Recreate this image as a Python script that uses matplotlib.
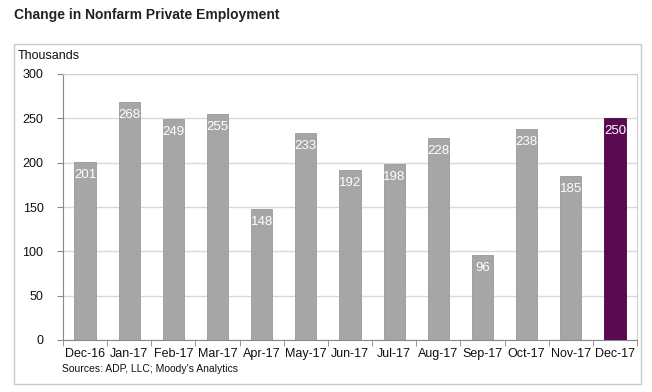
import matplotlib
matplotlib.use("Agg")
import matplotlib.pyplot as plt
from matplotlib.patches import Rectangle
import numpy as np

categories = ["Dec-16", "Jan-17", "Feb-17", "Mar-17", "Apr-17", "May-17", "Jun-17",
              "Jul-17", "Aug-17", "Sep-17", "Oct-17", "Nov-17", "Dec-17"]
values = [201, 268, 249, 255, 148, 233, 192, 198, 228, 96, 238, 185, 250]
yticks = [0, 50, 100, 150, 200, 250, 300]

plt.rcParams['font.family'] = ['Liberation Sans', 'DejaVu Sans']

W, H = 652, 392
fig = plt.figure(figsize=(W / 100, H / 100), dpi=100)
fig.patch.set_facecolor("white")

# outer box
fig.add_artist(Rectangle((14 / W, 1 - 384 / H), (641 - 14) / W, (384 - 44) / H,
                         transform=fig.transFigure, fill=False, edgecolor="#c8c8c8", lw=1))

ax = fig.add_axes([63 / W, 1 - 340 / H, (637 - 63) / W, (340 - 74) / H])
x = np.arange(len(categories))
colors = ["#a6a6a6"] * (len(values) - 1) + ["#5a0a50"]
edges = ["#999999"] * (len(values) - 1) + ["#4a0040"]
bars = ax.bar(x, values, width=0.48, color=colors, edgecolor=edges, linewidth=0.6, zorder=3)

for xi, v in zip(x, values):
    ax.text(xi, v - 13 * 300 / 266, str(v), ha="center", va="center", color="white",
            fontsize=9.5, zorder=4)

ax.set_xlim(-0.5, len(categories) - 0.5)
ax.set_ylim(0, 300)
ax.set_yticks(yticks)
ax.set_yticklabels([str(t) for t in yticks], fontsize=9, color="#111111")
ax.yaxis.grid(True, color="#d9d9d9", lw=1, zorder=0)
ax.set_xticks(x)
ax.set_xticklabels(categories, fontsize=9, color="#111111")
ax.tick_params(axis="x", length=0, pad=6)
ax.set_xticks(np.arange(-0.5, len(categories), 1.0), minor=True)
ax.tick_params(axis="x", which="minor", length=4, direction="out", color="#888888")
ax.tick_params(axis="y", length=4, direction="out", color="#888888", pad=10)
for s in ["top", "right"]:
    ax.spines[s].set_color("#d0d0d0")
for s in ["left", "bottom"]:
    ax.spines[s].set_color("#888888")

fig.text(14 / W, 1 - 15 / H, "Change in Nonfarm Private Employment", fontsize=10,
         fontweight="bold", color="#222222", va="center", ha="left")
fig.text(18 / W, 1 - 56 / H, "Thousands", fontsize=9, color="#111111", va="center", ha="left")
fig.text(62 / W, 1 - 369 / H, "Sources: ADP, LLC; Moody's Analytics", fontsize=7.5,
         color="#111111", va="center", ha="left")

fig.savefig("out.png", dpi=100)
